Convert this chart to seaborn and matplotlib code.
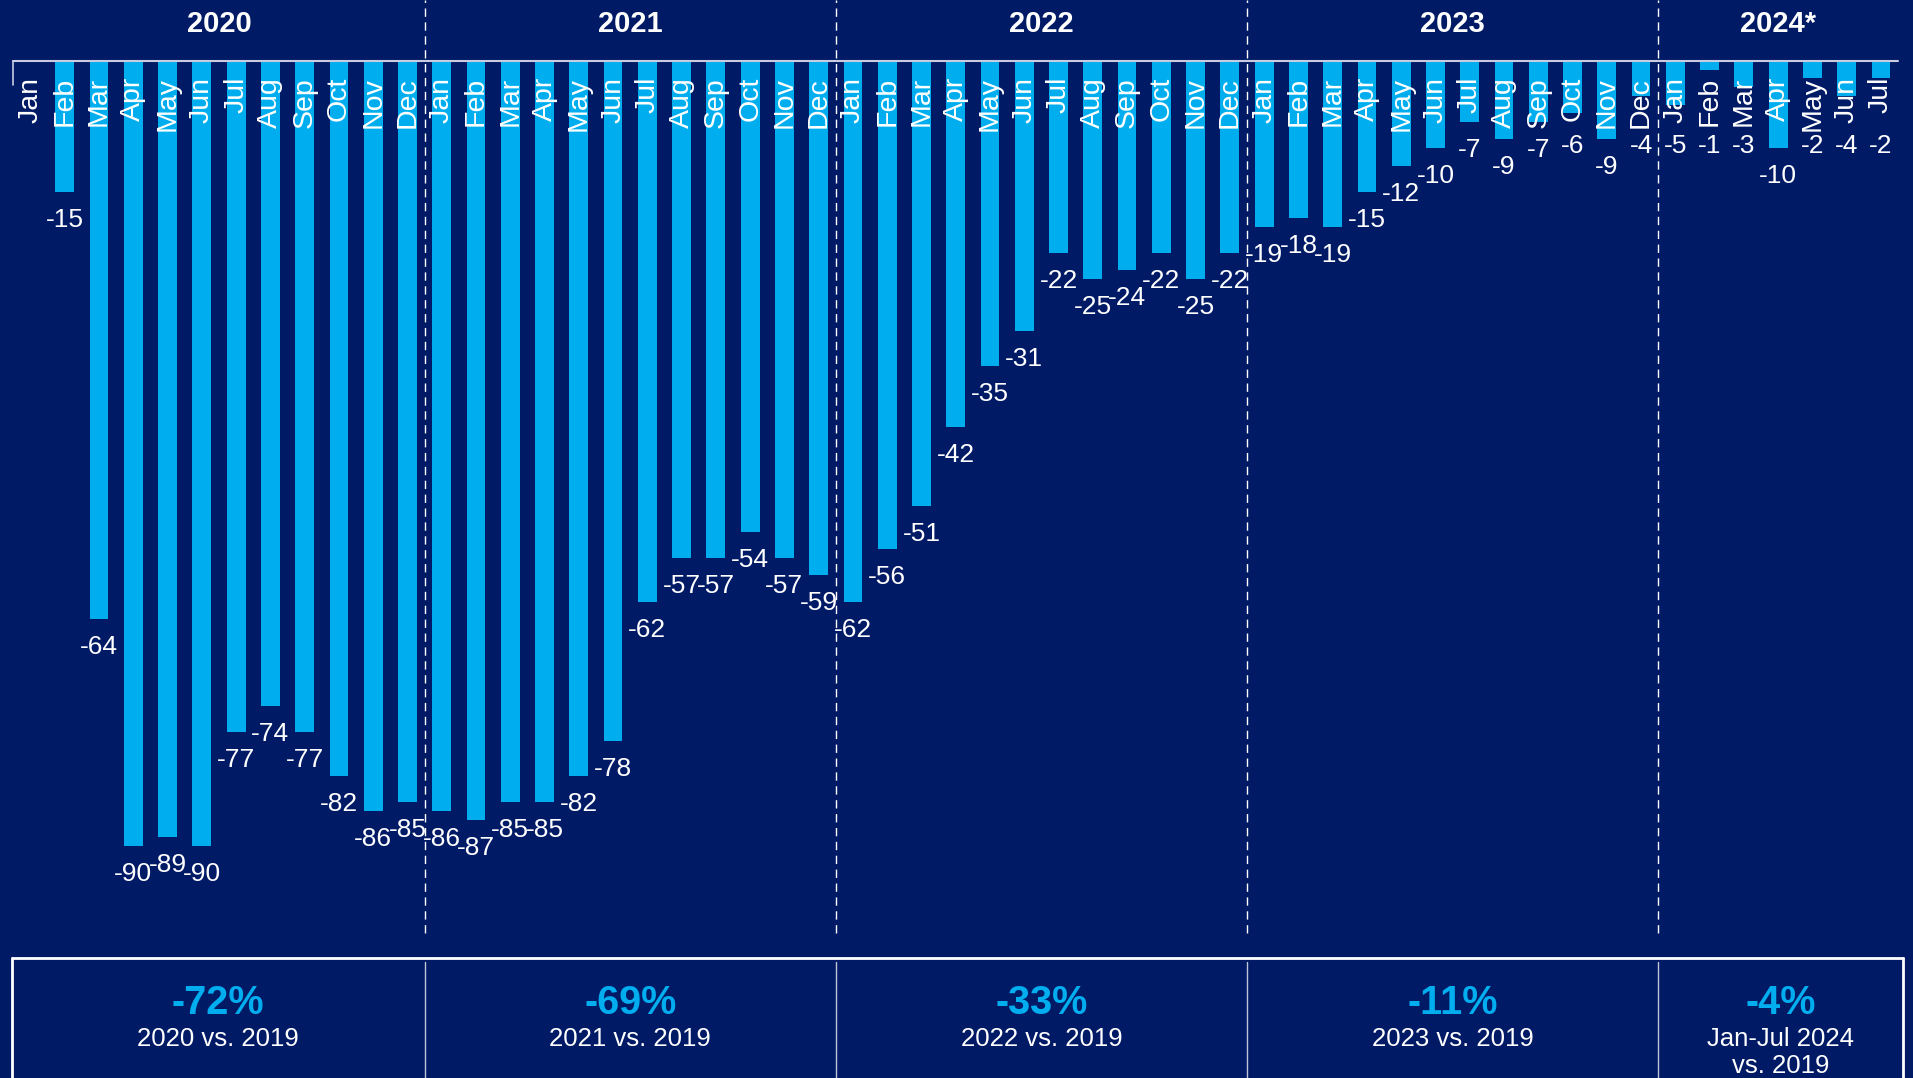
import pandas as pd
import numpy as np
import matplotlib
matplotlib.use('Agg')
import matplotlib.pyplot as plt
import seaborn as sns

# Monthly change vs. same month of 2019, in %
months = ['Jan', 'Feb', 'Mar', 'Apr', 'May', 'Jun', 'Jul', 'Aug', 'Sep', 'Oct', 'Nov', 'Dec']
years = ['2020', '2021', '2022', '2023', '2024*']
v2020 = [0, -15, -64, -90, -89, -90, -77, -74, -77, -82, -86, -85]
v2021 = [-86, -87, -85, -85, -82, -78, -62, -57, -57, -54, -57, -59]
v2022 = [-62, -56, -51, -42, -35, -31, -22, -25, -24, -22, -25, -22]
v2023 = [-19, -18, -19, -15, -12, -10, -7, -9, -7, -6, -9, -4]
v2024 = [-5, -1, -3, -10, -2, -4, -2]

# yearly totals for the boxes underneath
pct_labels = ['-72%', '-69%', '-33%', '-11%', '-4%']
sub_labels = ['2020 vs. 2019', '2021 vs. 2019', '2022 vs. 2019', '2023 vs. 2019', 'Jan-Jul 2024\nvs. 2019']

BG = '#001A66'
BAR = '#00AEEF'
WHITE = '#FFFFFF'

rows = []
for yr, vals in zip(years, [v2020, v2021, v2022, v2023, v2024]):
    for m, v in zip(months, vals):
        rows.append({'period': f'{yr} {m}', 'year': yr, 'month': m, 'change': v})
df = pd.DataFrame(rows)

sns.set_theme(style='white')
plt.rcParams['font.family'] = ['Liberation Sans', 'DejaVu Sans']

fig = plt.figure(figsize=(19.13, 10.78), dpi=100)
fig.patch.set_facecolor(BG)
ax = fig.add_axes([0.007, 0.1345, 0.9852, 0.8089])
ax.set_facecolor(BG)

sns.barplot(data=df, x='period', y='change', color=BAR, saturation=1,
            width=0.55, linewidth=0, ax=ax, order=df['period'])
ax.set_xlim(-0.5, len(df) - 0.5)
ax.set_ylim(-100, 0)
ax.axis('off')

# zero line along the top
ax.plot([-0.5, len(df) - 0.5], [0, 0], color='#C9CCE0', lw=1.5, clip_on=False, zorder=4)
ax.plot([-0.5, -0.5], [0, -2.8], color='#C9CCE0', lw=1.2, clip_on=False, zorder=4)

# month names and value labels (small values sit below the month names)
for i, r in df.iterrows():
    ax.annotate(r['month'], xy=(i, 0), xytext=(0, -16), textcoords='offset pixels',
                rotation=90, ha='center', va='top', color=WHITE, fontsize=20.5, zorder=5)
    if r['change'] != 0:
        ylab = min(r['change'] - 3.2, -9.8)
        ax.text(i, ylab, f"{r['change']:d}", ha='center', va='center',
                color=WHITE, fontsize=19, zorder=5)

# year separators, headers and summary boxes
bounds = [-0.5]
pos = 0
for yr in years:
    pos += (df['year'] == yr).sum()
    bounds.append(pos - 0.5)

box_top = -102.9
box_left, box_right = -0.55, len(df) - 0.35
for b in bounds[1:-1]:
    ax.plot([b, b], [-100, 7.0], color=WHITE, lw=1.0, ls=(0, (6, 4)), clip_on=False, zorder=3)
    ax.plot([b, b], [box_top - 0.4, -125], color='#C0C4D8', lw=1.0, clip_on=False)

ax.plot([box_left, box_right], [box_top, box_top], color=WHITE, lw=2, clip_on=False)
ax.plot([box_left, box_left], [box_top, -125], color=WHITE, lw=2, clip_on=False)
ax.plot([box_right, box_right], [box_top, -125], color=WHITE, lw=2, clip_on=False)

edges = [box_left] + bounds[1:-1] + [box_right]
for k, yr in enumerate(years):
    xc = (bounds[k] + bounds[k + 1]) / 2
    ax.text(xc, 4.3, yr, ha='center', va='center', color=WHITE,
            fontsize=21, fontweight='bold', clip_on=False)
    bc = (edges[k] + edges[k + 1]) / 2
    ax.text(bc, -108.0, pct_labels[k], ha='center', va='center', color=BAR,
            fontsize=28.5, fontweight='bold', clip_on=False)
    for j, line in enumerate(sub_labels[k].split('\n')):
        ax.text(bc, -112.1 - 3.2 * j, line, ha='center', va='center', color=WHITE,
                fontsize=18.5, clip_on=False)

fig.savefig('out.png', dpi=100, facecolor=BG)
